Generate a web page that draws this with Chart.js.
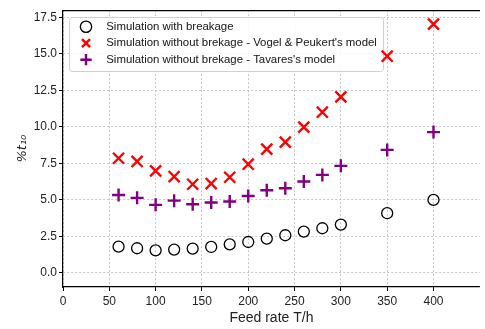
<!DOCTYPE html>
<html>
<head>
<meta charset="utf-8">
<script src="https://cdn.jsdelivr.net/npm/chart.js@4"></script>
<style>
html, body { margin: 0; padding: 0; background: #fff; overflow: hidden; }
</style>
</head>
<body>
<canvas id="myChart" width="490" height="329"></canvas>
<script>
const feedRate = [60, 80, 100, 120, 140, 160, 180, 200, 220, 240, 260, 280, 300, 350, 400];
const withBreakage = [1.80, 1.69, 1.55, 1.60, 1.67, 1.78, 1.96, 2.12, 2.35, 2.58, 2.83, 3.06, 3.31, 4.09, 5.00];
const vogelPeukert = [7.85, 7.63, 6.99, 6.60, 6.07, 6.12, 6.55, 7.44, 8.47, 8.95, 9.98, 11.00, 12.05, 14.83, 17.03];
const tavares = [5.34, 5.14, 4.66, 4.95, 4.70, 4.82, 4.89, 5.27, 5.66, 5.80, 6.26, 6.71, 7.33, 8.42, 9.64];
const seriesNames = [
    'Simulation with breakage',
    "Simulation without brekage - Vogel & Peukert's model",
    "Simulation without brekage - Tavares's model"
];
const xTicks = [0, 50, 100, 150, 200, 250, 300, 350, 400];
const yTicks = [0, 2.5, 5, 7.5, 10, 12.5, 15, 17.5];

const toPoints = (ys) => feedRate.map((x, i) => ({x: x, y: ys[i]}));
const font = {family: "'Liberation Sans', Arial, sans-serif", size: 12};
const legendFont = {family: "'Liberation Sans', Arial, sans-serif", size: 11.4};

// put the legend inside the plot, white box behind it
const legendBox = {
    id: 'legendBox',
    afterLayout(chart) {
        const lg = chart.legend;
        const area = chart.chartArea;
        const w = lg.width, h = lg.height;
        lg.left = area.left + 12.2;
        lg.top = area.top + 5.7;
        lg.right = lg.left + w;
        lg.bottom = lg.top + h;
    },
    beforeDatasetsDraw(chart) {
        const boxes = chart.legend.legendHitBoxes;
        if (!boxes || !boxes.length) return;
        let l = Infinity, t = Infinity, r = -Infinity, b = -Infinity;
        boxes.forEach(hb => {
            l = Math.min(l, hb.left); t = Math.min(t, hb.top);
            r = Math.max(r, hb.left + hb.width); b = Math.max(b, hb.top + hb.height);
        });
        const ctx = chart.ctx;
        ctx.save();
        ctx.beginPath();
        ctx.roundRect(Math.round(l - 11) + 0.5, Math.round(t - 4.5) + 0.5, Math.round(r - l + 17), Math.round(b - t + 9.5), 3);
        ctx.fillStyle = 'rgba(255,255,255,0.85)';
        ctx.fill();
        ctx.strokeStyle = '#d0d0d0';
        ctx.lineWidth = 1;
        ctx.stroke();
        ctx.restore();
        chart.legend.draw();
    }
};

const gridStyle = {color: '#b8b8b8', lineWidth: 0.8, tickColor: '#000', tickBorderDash: [], tickLength: 4, tickWidth: 1};
const borderStyle = {display: true, color: '#000', width: 1.2, dash: [2, 2]};

const ctx = document.getElementById('myChart');
new Chart(ctx, {
    type: 'scatter',
    data: {
        datasets: [{
            label: '\u2002 ' + seriesNames[0],
            data: toPoints(withBreakage),
            pointStyle: 'circle',
            pointRadius: 5.5,
            borderColor: '#000000',
            backgroundColor: 'rgba(0,0,0,0)',
            borderWidth: 1.3
        }, {
            label: '\u2002 ' + seriesNames[1],
            data: toPoints(vogelPeukert),
            pointStyle: 'crossRot',
            pointRadius: 7.8,
            borderColor: '#ff0000',
            backgroundColor: '#ff0000',
            borderWidth: 2.4
        }, {
            label: '\u2002 ' + seriesNames[2],
            data: toPoints(tavares),
            pointStyle: 'cross',
            pointRadius: 6.5,
            borderColor: '#800080',
            backgroundColor: '#800080',
            borderWidth: 2.4
        }]
    },
    options: {
        responsive: false,
        animation: false,
        layout: {padding: {top: 10, right: 0, bottom: 0, left: 0}},
        plugins: {
            tooltip: {enabled: false},
            legend: {
                position: 'chartArea',
                align: 'start',
                labels: {
                    usePointStyle: true,
                    boxHeight: 8,
                    padding: 5.1,
                    color: '#222',
                    font: legendFont
                }
            }
        },
        scales: {
            x: {
                type: 'linear',
                position: 'bottom',
                min: 0,
                max: 450,
                afterBuildTicks: (s) => { s.ticks = xTicks.map(v => ({value: v})); },
                afterFit: (s) => { s.height = 42; },
                ticks: {color: '#222', font: font, padding: 3, maxRotation: 0},
                grid: gridStyle,
                border: borderStyle,
                title: {display: true, text: 'Feed rate T/h', color: '#222', font: {family: font.family, size: 14}, padding: {top: 2, bottom: 2}}
            },
            x2: {
                type: 'linear',
                position: 'top',
                min: 0,
                max: 450,
                ticks: {display: false},
                grid: {drawOnChartArea: false, drawTicks: false},
                border: {display: true, color: '#000', width: 1.2},
                afterFit: (s) => { s.height = 0; }
            },
            y: {
                type: 'linear',
                min: -0.96,
                max: 17.98,
                afterBuildTicks: (s) => { s.ticks = yTicks.map(v => ({value: v})); },
                afterFit: (s) => { s.width = 63; },
                ticks: {color: '#222', font: font, padding: 2, callback: (v) => v.toFixed(1)},
                grid: gridStyle,
                border: borderStyle,
                title: {display: true, text: '%t\u2081\u2080', color: '#222', font: {family: "'DejaVu Sans', sans-serif", size: 13, style: 'italic'}, padding: {top: 15, bottom: 4}}
            }
        }
    },
    plugins: [legendBox]
});
</script>
</body>
</html>
